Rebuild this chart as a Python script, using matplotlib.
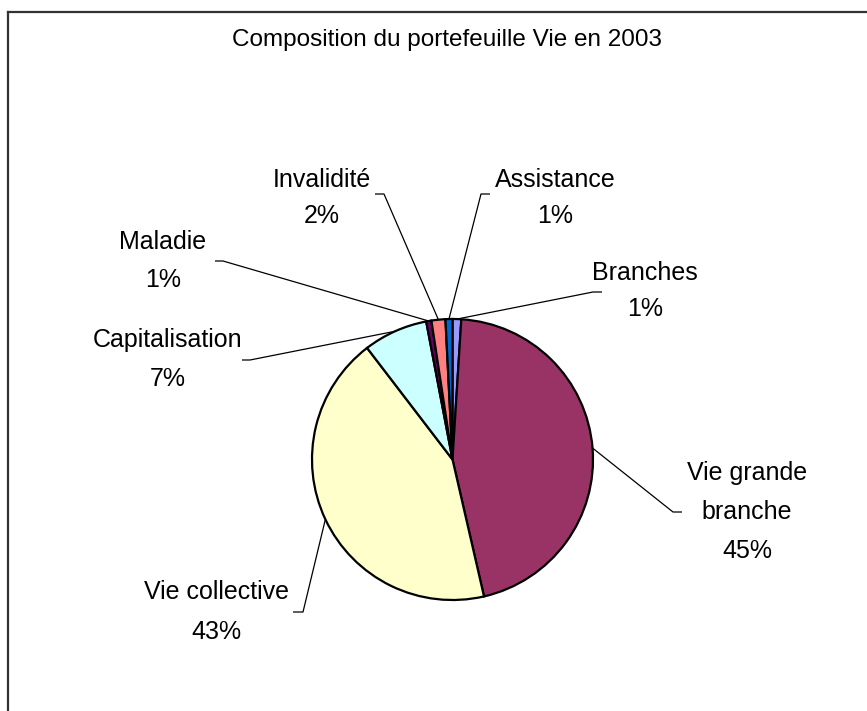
import matplotlib
matplotlib.use("Agg")
import matplotlib.pyplot as plt
from matplotlib import font_manager
from matplotlib.lines import Line2D
import numpy as np

# ---------------- data ----------------
title = "Composition du portefeuille Vie en 2003"
categories = ["Branches", "Vie grande branche", "Vie collective", "Capitalisation",
              "Maladie", "Invalidité", "Assistance"]
label_lines = [["Branches"], ["Vie grande", "branche"], ["Vie collective"], ["Capitalisation"],
               ["Maladie"], ["Invalidité"], ["Assistance"]]
values = [1.0, 45.4, 43.2, 7.4, 0.6, 1.6, 0.8]
colors = ["#9999FF", "#993366", "#FFFFCC", "#CCFFFF", "#660066", "#FF8080", "#0066CC"]

# ---------------- layout (pixels from top-left) ----------------
W, H = 867, 711
# text x, first line y, line step, elbow outer x, elbow inner x, elbow y
layout = {
    "Branches":           (645, 273, 36, 602, 593, 292),
    "Vie grande branche": (747, 473, 39, 682, 673, 512),
    "Vie collective":     (216, 592, 40, 293, 303, 612),
    "Capitalisation":     (168, 340, 39, 242, 250, 360),
    "Maladie":            (163, 242, 38, 215, 223, 261),
    "Invalidité":         (322, 180, 36, 375, 384, 194),
    "Assistance":         (555, 180, 36, 490, 481, 194),
}

names = {f.name for f in font_manager.fontManager.ttflist}
if "Liberation Sans Narrow" in names:
    FAM = ["Liberation Sans Narrow", "DejaVu Sans"]
    FS = 21.0
    TFS = 21.0
else:
    FAM = ["Liberation Sans", "DejaVu Sans"]
    FS = 18.0
    TFS = 17.5

fig = plt.figure(figsize=(W / 100, H / 100), dpi=100)
fig.patch.set_facecolor("white")
ax = fig.add_axes([0, 0, 1, 1])

cx, cy, r = 452.5, H - 459.5, 140.5
wedges, _ = ax.pie(values, colors=colors, startangle=90, counterclock=False,
                   center=(cx, cy), radius=r,
                   wedgeprops=dict(edgecolor="black", linewidth=1.6))
ax.set_xlim(0, W)
ax.set_ylim(0, H)
ax.set_aspect("equal")
ax.axis("off")

total = sum(values)
for w, cat, lines, v in zip(wedges, categories, label_lines, values):
    tx, ty, step, ox, ix, ey = layout[cat]
    ang = np.deg2rad((w.theta1 + w.theta2) / 2)
    ax_pt = (cx + r * np.cos(ang), cy + r * np.sin(ang))
    ax.plot([ox, ix, ax_pt[0]], [H - ey, H - ey, ax_pt[1]], color="black", lw=0.9,
            solid_capstyle="butt", zorder=0.5)
    all_lines = lines + [f"{round(v / total * 100):.0f}%"]
    for k, txt in enumerate(all_lines):
        ax.text(tx, H - (ty + k * step), txt, ha="center", va="center",
                fontsize=FS, family=FAM, color="black")

ax.text(447, H - 40, title, ha="center", va="center", fontsize=TFS, family=FAM, color="black")

# chart border (only top and left edges visible in the crop)
fig.add_artist(Line2D([8 / W, 1], [1 - 12 / H, 1 - 12 / H], color="#333333", lw=1.6,
                      transform=fig.transFigure))
fig.add_artist(Line2D([8 / W, 8 / W], [0, 1 - 12 / H], color="#333333", lw=1.6,
                      transform=fig.transFigure))

fig.savefig("out.png", dpi=100, facecolor="white")
